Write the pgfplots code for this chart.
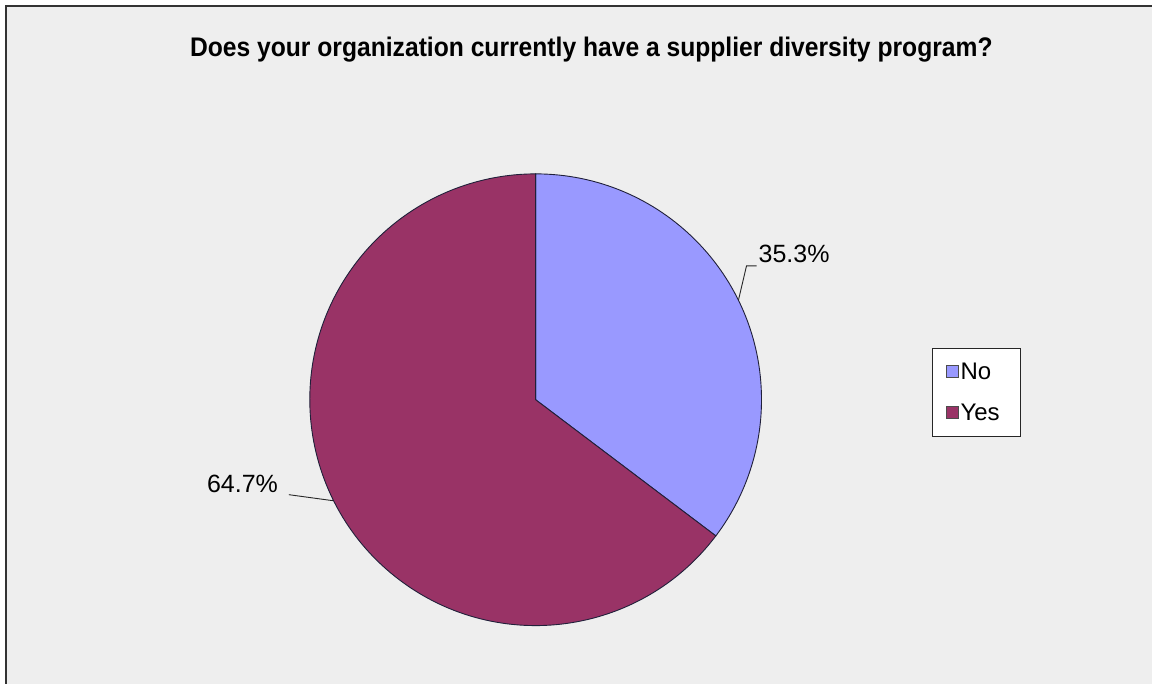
\documentclass[border=0pt]{standalone}
\usepackage{fontspec}
\setmainfont{Liberation Sans}
\usepackage{pgfplots}
\usepackage{pgfplotstable}
\pgfplotsset{compat=1.18}
\definecolor{bgc}{HTML}{EEEEEE}
\definecolor{noc}{HTML}{9999FF}
\definecolor{yesc}{HTML}{993366}
\definecolor{edgec}{HTML}{20203A}
\pgfplotstableread{
label value
No 35.3
Yes 64.7
}\piedata
\begin{document}
\begin{tikzpicture}
\pgfplotstablegetelem{0}{value}\of\piedata \let\vNo\pgfplotsretval
\pgfplotstablegetelem{1}{value}\of\piedata \let\vYes\pgfplotsretval
\pgfmathsetmacro{\aEnd}{90-3.6*\vNo}
\pgfmathsetmacro{\bEnd}{\aEnd-3.6*\vYes}
\begin{axis}[
  width=1153pt, height=684pt, scale only axis,
  xmin=0, xmax=1153, ymin=0, ymax=684,
  hide axis, clip=false,
]
% background and frame
\fill[white] (axis cs:0,0) rectangle (axis cs:1153,684);
\fill[bgc] (axis cs:6,0) rectangle (axis cs:1153,678);
\draw[black!80, line width=1.5pt] (axis cs:6,0) -- (axis cs:6,678) -- (axis cs:1153,678);
% title
\node[anchor=base west, inner sep=0pt] at (axis cs:190,627)
  {\resizebox{803pt}{19.5pt}{\bfseries Does your organization currently have a supplier diversity program?}};
% pie slices
\fill[noc, draw=edgec, line width=0.9pt] (axis cs:536,284) -- ++(90:226pt) arc[start angle=90, end angle=\aEnd, radius=226pt] -- cycle;
\fill[yesc, draw=edgec, line width=0.9pt] (axis cs:536,284) -- ++(\aEnd:226pt) arc[start angle=\aEnd, end angle=\bEnd, radius=226pt] -- cycle;
% leader lines and labels
\draw[black!85, line width=0.9pt] (axis cs:739,384) -- (axis cs:747,418) -- (axis cs:757,418);
\node[anchor=base west, inner sep=0pt, font=\fontsize{25}{30}\selectfont] at (axis cs:759,421) {\pgfmathprintnumber[fixed,precision=1,fixed zerofill,assume math mode=true]{\vNo}\%};
\draw[black!85, line width=0.9pt] (axis cs:289,189) -- (axis cs:333,183);
\node[anchor=base west, inner sep=0pt, font=\fontsize{25}{30}\selectfont] at (axis cs:207,191) {\pgfmathprintnumber[fixed,precision=1,fixed zerofill,assume math mode=true]{\vYes}\%};
% legend
\filldraw[fill=white, draw=black!85, line width=1pt] (axis cs:933,335) rectangle (axis cs:1021,247);
\filldraw[fill=noc, draw=black!70, line width=0.6pt] (axis cs:947,306) rectangle (axis cs:959,318);
\filldraw[fill=yesc, draw=black!70, line width=0.6pt] (axis cs:947,265) rectangle (axis cs:959,277);
\node[anchor=west, inner sep=0pt, font=\fontsize{24}{28}\selectfont] at (axis cs:961,312) {No};
\node[anchor=west, inner sep=0pt, font=\fontsize{24}{28}\selectfont] at (axis cs:961,271) {Yes};
\end{axis}
\end{tikzpicture}
\end{document}
